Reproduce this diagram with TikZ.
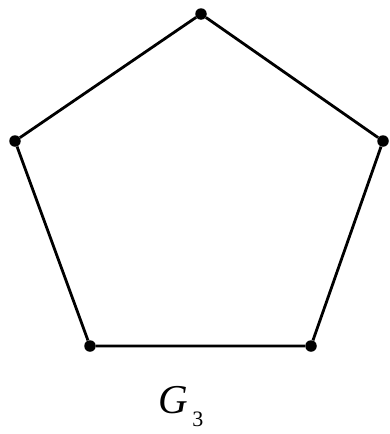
\documentclass[tikz,border=0pt]{standalone}
\usepackage{fontspec}
\setmainfont{Liberation Serif}
\begin{document}
\begin{tikzpicture}[x=1pt,y=-1pt,
  vtx/.style={circle,fill=black,inner sep=0pt,minimum size=11.5pt},
  edge/.style={line width=2.8pt}]
\useasboundingbox (0,0) rectangle (390,434);
\node[vtx] (t) at (201,14) {};
\node[vtx] (l) at (15,141) {};
\node[vtx] (r) at (383,141) {};
\node[vtx] (bl) at (90,346) {};
\node[vtx] (br) at (311,346) {};
\draw[edge] (t) -- (r) -- (br) -- (bl) -- (l) -- (t);
\node[font=\fontsize{41}{43}\selectfont,inner sep=0pt] (lab) at (181,407)
  {\itshape G\upshape\hspace{4pt}\raisebox{-13pt}{\fontsize{22}{24}\selectfont 3}};
\end{tikzpicture}
\end{document}
